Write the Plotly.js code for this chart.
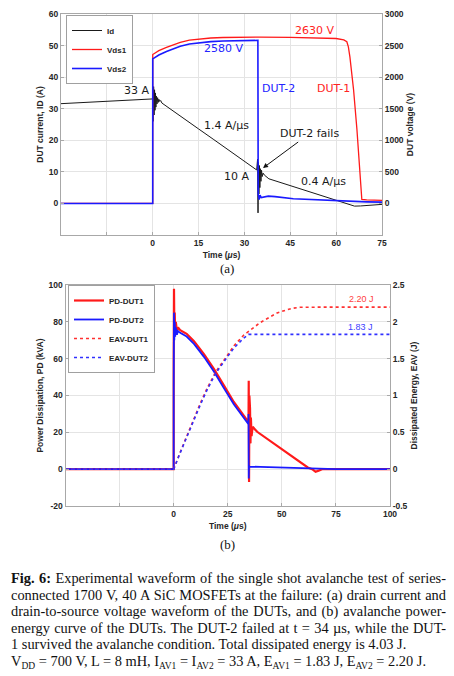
<!DOCTYPE html>
<html>
<head>
<meta charset="utf-8">
<script src="https://cdn.plot.ly/plotly-3.0.1.min.js"></script>
<style>
html,body{margin:0;padding:0;background:#fff;}
#chart{width:454px;height:676px;position:absolute;left:0;top:0;}
.cap{position:absolute;left:11px;width:435px;font-family:"Liberation Serif","Times New Roman",serif;font-size:14.4px;line-height:16px;color:#111;white-space:nowrap;}
.j{text-align:justify;text-align-last:justify;white-space:normal;}
.cap sub{font-size:9.5px;vertical-align:baseline;position:relative;top:3px;}
</style>
</head>
<body>
<div id="chart"></div>
<div class="cap j" style="top:570px"><b>Fig. 6:</b> Experimental waveform of the single shot avalanche test of series-</div>
<div class="cap j" style="top:586.5px">connected 1700 V, 40 A SiC MOSFETs at the failure: (a) drain current and</div>
<div class="cap j" style="top:603px">drain-to-source voltage waveform of the DUTs, and (b) avalanche power-</div>
<div class="cap j" style="top:619.5px">energy curve of the DUTs. The DUT-2 failed at t = 34 µs, while the DUT-</div>
<div class="cap" style="top:636px">1 survived the avalanche condition. Total dissipated energy is 4.03 J.</div>
<div class="cap" style="top:652.5px">V<sub>DD</sub> = 700 V, L = 8 mH, I<sub>AV1</sub> = I<sub>AV2</sub> = 33 A, E<sub>AV1</sub> = 1.83 J, E<sub>AV2</sub> = 2.20 J.</div>
<script>
// ---------- (a) drain current & voltage ----------
var tId = [-30, -20, -10, -5, 0, 0.15, 0.3, 0.45, 0.6, 0.75, 0.9, 1.05, 1.2, 1.4, 1.6, 1.8, 2.0, 2.3, 2.6, 3, 5, 10, 15, 20, 25, 30, 34, 34.3, 34.45, 34.6, 34.75, 34.9, 35.05, 35.2, 35.4, 35.6, 35.8, 36.1, 36.5, 38, 45, 50, 55, 60, 62, 64, 66, 68, 70, 75];
var Id  = [31.6, 32.1, 32.6, 32.85, 33.1, 26, 37, 28, 36, 29.5, 35, 30.5, 34, 31.5, 33.5, 32, 33, 32.3, 32.6, 31.8, 30.4, 27.0, 23.6, 20.2, 16.8, 13.4, 10.6, 14, -3, 13, 3, 12, 5, 11, 7, 10.5, 8.5, 9.6, 9.0, 7.8, 5.6, 4.1, 2.55, 1.0, 0.4, -0.3, -0.85, -0.8, -0.6, -0.3];

var tV1 = [-30, 0, 0.01, 1, 2, 4.5, 7, 9, 12, 15, 19, 23, 28, 35, 45, 55, 60, 62.5, 63.5, 64, 64.5, 65.7, 66.8, 68.4, 70, 75];
var Vds1 = [0, 0, 2358, 2390, 2420, 2470, 2520, 2552, 2585, 2605, 2620, 2628, 2632, 2634, 2630, 2622, 2612, 2590, 2560, 2480, 2320, 1800, 1170, 62, 55, 47];

var tV2 = [-30, 0, 0.01, 1, 2, 4.5, 7, 9, 12, 15, 19, 23, 28, 34.4, 34.5, 34.8, 35.1, 35.5, 37.8, 40, 46, 50, 57, 60, 65, 70, 75];
var Vds2 = [0, 0, 2290, 2320, 2350, 2405, 2455, 2490, 2525, 2545, 2563, 2572, 2578, 2582, 150, 60, 130, 92, 115, 108, 74, 65, 47, 40, 30, 25, 20];

// ---------- (b) power & energy ----------
var tP1 = [-50, 0, 0.01, 0.15, 0.3, 0.5, 0.7, 1, 1.5, 2, 3, 6, 9.4, 14, 18.6, 23.2, 27.8, 34.6, 34.7, 34.85, 35, 35.15, 35.3, 35.5, 35.7, 36, 36.5, 38.6, 45, 50, 55, 58.5, 62, 64, 65.6, 67, 68.6, 75, 100];
var PD1 = [0, 0, 60, 98, 78, 85, 74, 80, 75, 77, 75.5, 73.5, 69.5, 62.5, 54.5, 45.5, 36.5, 25.5, 48, -7, 40, 8, 33, 14, 28, 18, 23, 20.3, 14.9, 10.6, 6.4, 3.4, 0.9, 0, -1.4, -0.8, 0, 0, 0];

var tP2 = [-50, 0, 0.01, 0.15, 0.3, 0.5, 0.7, 1, 1.5, 2, 3, 6, 9.4, 14, 18.6, 23.2, 27.8, 34.5, 34.6, 34.7, 34.8, 35, 40, 50, 60, 65, 75, 100];
var PD2 = [0, 0, 45, 85, 70, 80, 72, 77, 73, 75, 74, 72, 68, 61, 53, 44, 35.2, 24.5, 30, -5, 1.8, 1.4, 1.2, 0.8, 0.4, 0.1, 0, 0];

var tE1 = [-50, 0, 3, 6.3, 9.4, 12.4, 15.5, 19.4, 24.7, 28, 32.4, 34.7, 40, 44.7, 47.8, 52, 55, 58.5, 62, 70, 100];
var EAV1 = [0, 0, 0.23, 0.47, 0.69, 0.9, 1.1, 1.32, 1.54, 1.68, 1.82, 1.87, 1.99, 2.07, 2.12, 2.16, 2.185, 2.197, 2.2, 2.2, 2.2];

var tE2 = [-50, 0, 3, 6.3, 9.4, 12.4, 15.5, 19.4, 24.7, 28, 32.4, 34.6, 40, 60, 100];
var EAV2 = [0, 0, 0.22, 0.46, 0.68, 0.88, 1.08, 1.3, 1.52, 1.65, 1.78, 1.83, 1.83, 1.83, 1.83];

// ---------- ticks ----------
var xTickA = [-30, -15, 0, 15, 30, 45, 60, 75];
var xTextA = ['', '', '0', '15', '30', '45', '60', '75'];
var yTickA = [-10, 0, 10, 20, 30, 40, 50, 60];
var yTextA = ['', '0', '10', '20', '30', '40', '50', '60'];
var y2TickA = [-500, 0, 500, 1000, 1500, 2000, 2500, 3000];
var y2TextA = ['', '0', '500', '1000', '1500', '2000', '2500', '3000'];
var xTickB = [-50, -25, 0, 25, 50, 75, 100];
var xTextB = ['', '', '0', '25', '50', '75', '100'];
var yTickB = [-20, 0, 20, 40, 60, 80, 100];
var yTextB = ['-20', '0', '20', '40', '60', '80', '100'];
var y2TickB = [-0.5, 0, 0.5, 1, 1.5, 2, 2.5];
var y2TextB = ['-0.5', '0', '0.5', '1', '1.5', '2', '2.5'];

var RED = '#ff1a1a', BLUE = '#1a1aff';
var traces = [
  {x: tId, y: Id, name: 'Id', type: 'scatter', mode: 'lines', line: {color: '#1a1a1a', width: 1}, xaxis: 'x', yaxis: 'y', legend: 'legend'},
  {x: tV1, y: Vds1, name: 'Vds1', type: 'scatter', mode: 'lines', line: {color: RED, width: 1.3}, xaxis: 'x', yaxis: 'y2', legend: 'legend'},
  {x: tV2, y: Vds2, name: 'Vds2', type: 'scatter', mode: 'lines', line: {color: BLUE, width: 1.6}, xaxis: 'x', yaxis: 'y2', legend: 'legend'},
  {x: tP1, y: PD1, name: 'PD-DUT1', type: 'scatter', mode: 'lines', line: {color: RED, width: 2.2}, xaxis: 'x2', yaxis: 'y3', legend: 'legend2'},
  {x: tP2, y: PD2, name: 'PD-DUT2', type: 'scatter', mode: 'lines', line: {color: BLUE, width: 1.8}, xaxis: 'x2', yaxis: 'y3', legend: 'legend2'},
  {x: tE1, y: EAV1, name: 'EAV-DUT1', type: 'scatter', mode: 'lines', line: {color: '#ff3030', width: 1.6, dash: 'dot'}, xaxis: 'x2', yaxis: 'y4', legend: 'legend2'},
  {x: tE2, y: EAV2, name: 'EAV-DUT2', type: 'scatter', mode: 'lines', line: {color: '#3030ff', width: 1.6, dash: 'dot'}, xaxis: 'x2', yaxis: 'y4', legend: 'legend2'}
];

var W = 454, H = 676;
function px(v){return v / W;}
function py(v){return 1 - v / H;}
var tickFont = {family: 'Liberation Sans, Arial, sans-serif', size: 8.5, color: '#262626', weight: 'bold'};
var titleFont = {family: 'Liberation Sans, Arial, sans-serif', size: 8.5, color: '#262626', weight: 'bold'};
var AX = {showline: true, linecolor: '#a8a8a8', linewidth: 1, ticks: 'inside', ticklen: 3, tickcolor: '#a8a8a8',
          showgrid: true, gridcolor: '#e4e4e4', gridwidth: 1, zeroline: false, tickfont: tickFont, tickmode: 'array'};
function ax(o){ var r = {}; for (var k in AX) r[k] = AX[k]; for (var k2 in o) r[k2] = o[k2]; return r; }

var annFont = {family: 'DejaVu Sans, sans-serif', size: 11, color: '#1a1a1a'};
function ann(text, x, y, color, size, fam){
  return {text: text, xref: 'paper', yref: 'paper', x: px(x), y: py(y), xanchor: 'center', yanchor: 'middle', showarrow: false,
          font: {family: fam || annFont.family, size: size || 11, color: color || '#1a1a1a'}};
}

var layout = {
  width: W, height: H, margin: {l: 0, r: 0, t: 0, b: 0},
  paper_bgcolor: '#fff', plot_bgcolor: '#fff', showlegend: true,
  xaxis: ax({domain: [px(61), px(382)], range: [-30, 75], anchor: 'y', tickvals: xTickA, ticktext: xTextA, mirror: true,
        title: {text: 'Time (<i>μ</i>s)', font: titleFont, standoff: 4}}),
  yaxis: ax({domain: [py(235), py(14)], range: [-10, 60], anchor: 'x', tickvals: yTickA, ticktext: yTextA,
        title: {text: 'DUT current, ID (A)', font: titleFont, standoff: 3}}),
  yaxis2: ax({overlaying: 'y', side: 'right', anchor: 'x', range: [-500, 3000], tickvals: y2TickA, ticktext: y2TextA, showgrid: false,
        title: {text: 'DUT voltage (V)', font: titleFont, standoff: 4}}),
  xaxis2: ax({domain: [px(65.5), px(390)], range: [-50, 100], anchor: 'y3', tickvals: xTickB, ticktext: xTextB, mirror: true,
        title: {text: 'Time (<i>μ</i>s)', font: titleFont, standoff: 4}}),
  yaxis3: ax({domain: [py(506), py(285)], range: [-20, 100], anchor: 'x2', tickvals: yTickB, ticktext: yTextB,
        title: {text: 'Power Dissipation, PD (kVA)', font: titleFont, standoff: 3}}),
  yaxis4: ax({overlaying: 'y3', side: 'right', anchor: 'x2', range: [-0.5, 2.5], tickvals: y2TickB, ticktext: y2TextB, showgrid: false,
        title: {text: 'Dissipated Energy, EAV (J)', font: titleFont, standoff: 4}}),
  legend: {x: px(66), y: py(15), xanchor: 'left', yanchor: 'top', bgcolor: '#fff', bordercolor: '#a0a0a0', borderwidth: 1,
        font: {family: 'Liberation Sans, Arial, sans-serif', size: 8, color: '#262626', weight: 'bold'}, tracegroupgap: 0, itemwidth: 30},
  legend2: {x: px(68), y: py(285), xanchor: 'left', yanchor: 'top', bgcolor: '#fff', bordercolor: '#a0a0a0', borderwidth: 1,
        font: {family: 'Liberation Sans, Arial, sans-serif', size: 8, color: '#262626', weight: 'bold'}, tracegroupgap: 0, itemwidth: 30},
  annotations: [
    ann('33 A', 136, 91),
    ann('1.4 A/μs', 226, 125),
    ann('2580 V', 223, 49, '#2323ff'),
    ann('2630 V', 314, 31, '#ff2323'),
    ann('DUT-2', 278, 88, '#2323ff'),
    ann('DUT-1', 333, 88, '#ff2323'),
    {text: 'DUT-2 fails', xref: 'paper', yref: 'paper', x: px(263), y: py(168), ax: 46, ay: -34,
     showarrow: true, arrowhead: 2, arrowsize: 1, arrowwidth: 1, arrowcolor: '#111', standoff: 0,
     font: {family: annFont.family, size: 11, color: '#1a1a1a'}},
    ann('10 A', 236, 176),
    ann('0.4 A/μs', 323, 181),
    ann('2.20 J', 361, 299, '#ff4040', 9, 'Liberation Sans, Arial, sans-serif'),
    ann('1.83 J', 360, 327, '#4040ff', 9, 'Liberation Sans, Arial, sans-serif'),
    ann('(a)', 227, 268, '#111', 13, 'Liberation Serif, Times New Roman, serif'),
    ann('(b)', 227, 544, '#111', 13, 'Liberation Serif, Times New Roman, serif')
  ]
};

Plotly.newPlot('chart', traces, layout, {staticPlot: true, displayModeBar: false});
</script>
</body>
</html>
